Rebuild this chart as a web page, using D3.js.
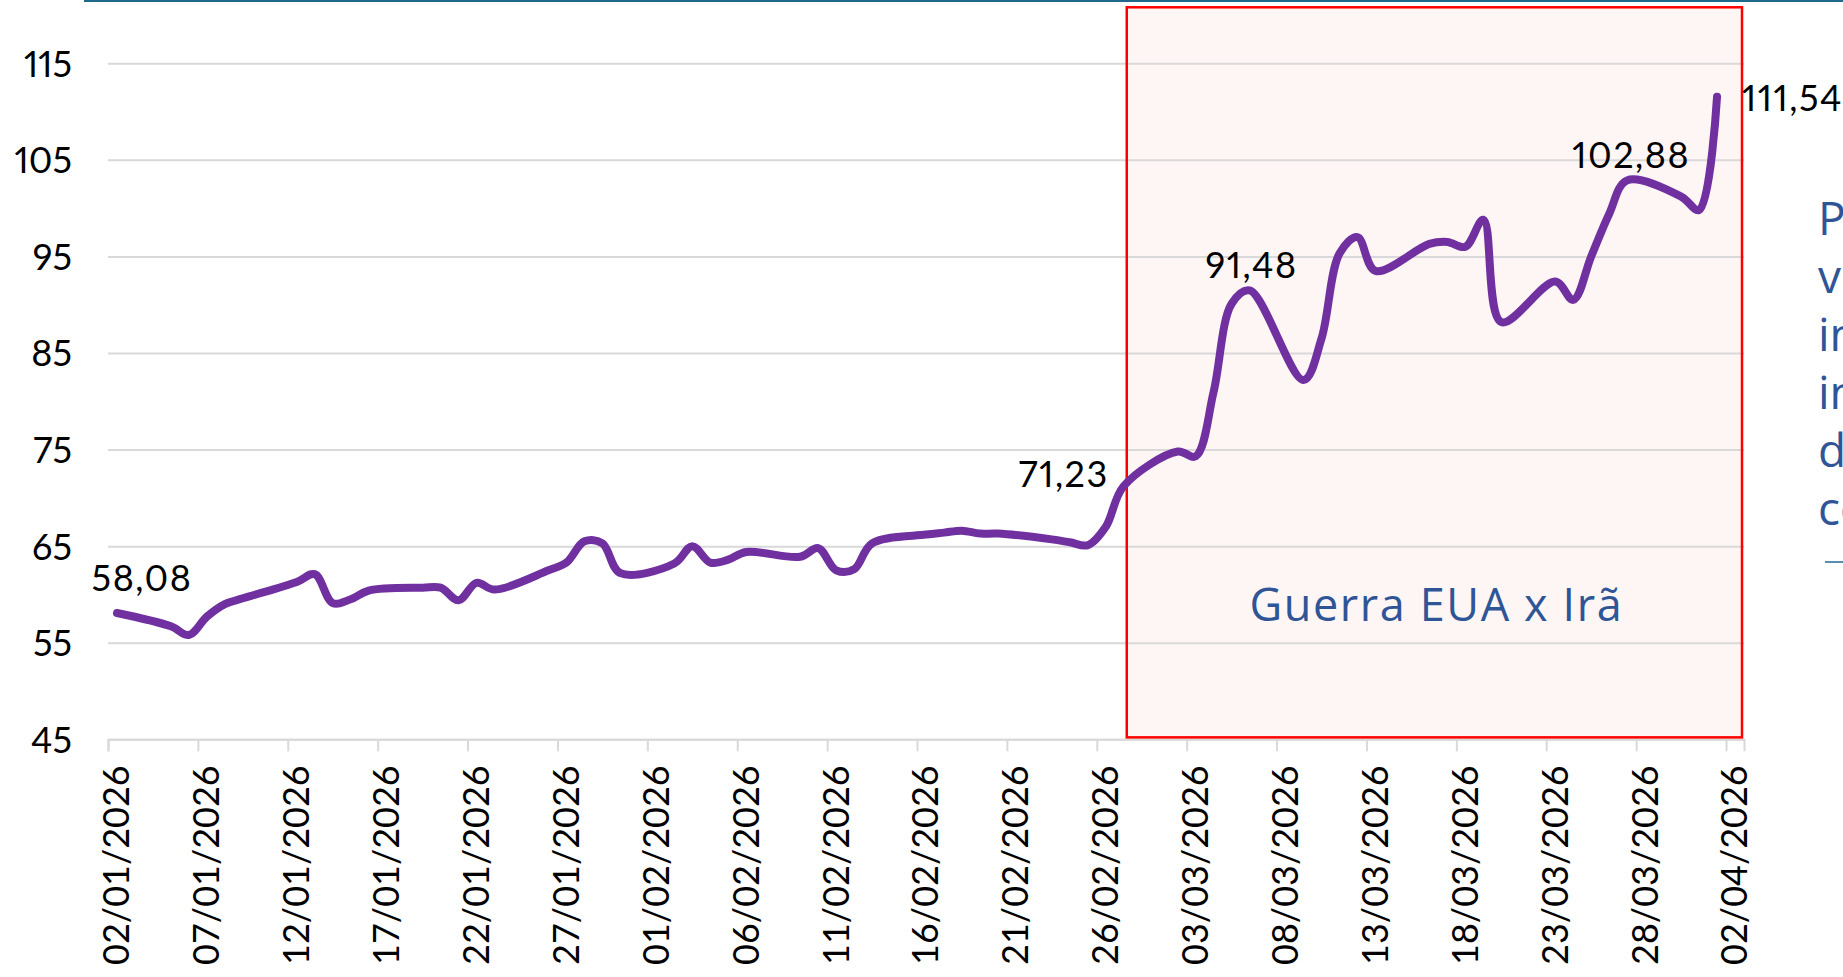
<!DOCTYPE html>
<html>
<head>
<meta charset="utf-8">
<script src="https://cdn.jsdelivr.net/npm/d3@7"></script>
<style>
  html, body { margin: 0; padding: 0; background: #ffffff; overflow: hidden; }
  svg { display: block; }
  text.num { font-variant-numeric: proportional-nums; font-feature-settings: "pnum" 1; }
</style>
</head>
<body>
<svg id="chart" width="1843" height="977"></svg>
<script>
// ---------------- DATA ----------------
const dates = [
  "2026-01-02","2026-01-05","2026-01-06","2026-01-07","2026-01-08","2026-01-09",
  "2026-01-12","2026-01-13","2026-01-14","2026-01-15","2026-01-16",
  "2026-01-19","2026-01-20","2026-01-21","2026-01-22","2026-01-23",
  "2026-01-26","2026-01-27","2026-01-28","2026-01-29","2026-01-30",
  "2026-02-02","2026-02-03","2026-02-04","2026-02-05","2026-02-06",
  "2026-02-09","2026-02-10","2026-02-11","2026-02-12","2026-02-13",
  "2026-02-16","2026-02-17","2026-02-18","2026-02-19","2026-02-20",
  "2026-02-23","2026-02-24","2026-02-25","2026-02-26","2026-02-27",
  "2026-03-02","2026-03-03","2026-03-04","2026-03-05","2026-03-06",
  "2026-03-09","2026-03-10","2026-03-11","2026-03-12","2026-03-13",
  "2026-03-16","2026-03-17","2026-03-18","2026-03-19","2026-03-20",
  "2026-03-23","2026-03-24","2026-03-25","2026-03-26","2026-03-27",
  "2026-03-30","2026-03-31","2026-04-01"
];
const prices = [
  58.08, 56.7, 55.8, 57.7, 59.0, 59.6,
  61.3, 62.1, 59.1, 59.5, 60.4,
  60.7, 60.7, 59.4, 61.2, 60.5,
  62.5, 63.3, 65.5, 65.3, 62.2,
  63.2, 65.0, 63.3, 63.6, 64.4,
  63.9, 64.8, 62.5, 62.6, 65.3,
  66.2, 66.4, 66.6, 66.3, 66.3,
  65.7, 65.4, 65.1, 67.0, 71.23,
  74.8, 74.3, 81.0, 90.1, 91.48,
  82.2, 86.5, 95.3, 97.0, 93.5,
  96.3, 96.5, 96.0, 98.8, 88.2,
  92.4, 90.5, 95.0, 99.4, 102.88,
  101.2, 99.8, 111.54
];
const yTicks = [45, 55, 65, 75, 85, 95, 105, 115];
const xTickStart = "2026-01-02";
const xTickEveryDays = 5;
const xDomain = ["2026-01-02", "2026-04-03"];
const labeledDates = ["2026-01-02", "2026-02-27", "2026-03-06", "2026-03-27", "2026-04-01"];
const bandStart = "2026-02-27T16:00";   // war period highlight
const bandValueRange = [45.2, 120.8];
const bandLabel = "Guerra EUA x Irã";
const bandLabelValue = 57.3;
const sideTextLines = ["Preço do Brent", "vem sendo", "impulsionado", "incertezas", "do", "conflito"];

// ---------------- LAYOUT ----------------
const M = { left: 108, right: 1744, top: 63.3, bottom: 739.3 };
const svg = d3.select("#chart");
const parse = d3.timeParse("%Y-%m-%d");
const parseT = d3.timeParse("%Y-%m-%dT%H:%M");
const mid = d => d3.timeHour.offset(parse(d), 12);

const x = d3.scaleTime().domain(xDomain.map(parse)).range([M.left, M.right]);
const y = d3.scaleLinear().domain([45, 115]).range([M.bottom, M.top]);

const data = dates.map((d, i) => ({ date: d, t: mid(d), v: prices[i] }));

const FONT = "Lato, 'Open Sans', sans-serif";
const GRID = "#d9d9d9";

// top rule
svg.append("rect").attr("x", 84).attr("y", 0).attr("width", 1843 - 84).attr("height", 2)
  .attr("fill", "#1f6a8c");

// band
const bx0 = x(parseT(bandStart));
const bx1 = M.right - 2;
svg.append("rect")
  .attr("x", bx0).attr("y", y(bandValueRange[1]))
  .attr("width", bx1 - bx0).attr("height", y(bandValueRange[0]) - y(bandValueRange[1]))
  .attr("fill", "#fef5f5");

// gridlines
const yAxis = d3.axisLeft(y).tickValues(yTicks).tickSize(-(M.right - M.left)).tickPadding(36)
  .tickFormat(d3.format("d"));
const gy = svg.append("g").attr("transform", `translate(${M.left},0)`).call(yAxis);
gy.select(".domain").remove();
gy.selectAll(".tick line").attr("stroke", GRID).attr("stroke-width", 2);
gy.selectAll(".tick text").attr("class", "num").attr("font-family", FONT).attr("font-size", 36).attr("fill", "#000")
  .attr("dy", "0.36em");

// x axis
const xTicks = d3.range(0, 19).map(k => d3.timeDay.offset(parse(xTickStart), k * xTickEveryDays));
const xAxis = d3.axisBottom(x).tickValues(xTicks).tickSize(12).tickPadding(0)
  .tickFormat(d3.timeFormat("%d/%m/%Y"));
const gx = svg.append("g").attr("transform", `translate(0,${M.bottom})`).call(xAxis);
gx.select(".domain").attr("stroke", GRID).attr("stroke-width", 2);
gx.selectAll(".tick line").attr("stroke", GRID).attr("stroke-width", 2);
gx.selectAll(".tick text")
  .attr("font-family", FONT).attr("font-size", 36).attr("fill", "#000")
  .attr("text-anchor", "end")
  .attr("transform", "rotate(-90)")
  .attr("x", -26).attr("y", 8).attr("dy", "0.36em");

// band border (on top of grid)
svg.append("rect")
  .attr("x", bx0).attr("y", y(bandValueRange[1]))
  .attr("width", bx1 - bx0).attr("height", y(bandValueRange[0]) - y(bandValueRange[1]))
  .attr("fill", "none").attr("stroke", "#ff0000").attr("stroke-width", 2.5);

svg.append("text")
  .attr("x", (bx0 + bx1) / 2 + 2).attr("y", y(bandLabelValue))
  .attr("text-anchor", "middle")
  .attr("font-family", "'Open Sans', sans-serif").attr("font-weight", 400)
  .attr("font-size", 45).attr("letter-spacing", 1.6)
  .attr("fill", "#2f5597").text(bandLabel);

// line
const line = d3.line().x(d => x(d.t)).y(d => y(d.v)).curve(d3.curveCatmullRom.alpha(0.5));
svg.append("path").datum(data).attr("d", line)
  .attr("fill", "none").attr("stroke", "#7030a0").attr("stroke-width", 8)
  .attr("stroke-linejoin", "round").attr("stroke-linecap", "round");

// data labels
const fmt = v => d3.format(".2f")(v).replace(".", ",");
const labelPlacement = {
  "2026-01-02": { anchor: "middle", dx: 25, dy: -35 },
  "2026-02-27": { anchor: "end", dx: -15, dy: -12 },
  "2026-03-06": { anchor: "middle", dx: 2, dy: -25 },
  "2026-03-27": { anchor: "middle", dx: 4, dy: -25 },
  "2026-04-01": { anchor: "start", dx: 25, dy: 1 }
};
labeledDates.forEach(d => {
  const p = data.find(e => e.date === d);
  const pl = labelPlacement[d];
  svg.append("text").attr("class", "num")
    .attr("x", x(p.t) + pl.dx).attr("y", y(p.v) + pl.dy).attr("dy", "0.36em")
    .attr("text-anchor", pl.anchor)
    .attr("font-family", FONT).attr("font-size", 36).attr("letter-spacing", 1.5)
    .attr("fill", "#000").text(fmt(p.v));
});

// side text (clipped at page edge, as in the source)
svg.append("g").selectAll("text").data(sideTextLines).join("text")
  .attr("x", 1818).attr("y", (d, i) => 235 + i * 58)
  .attr("font-family", "'Open Sans', sans-serif").attr("font-size", 46)
  .attr("fill", "#2f5597").text(d => d);
svg.append("rect").attr("x", 1825).attr("y", 561).attr("width", 20).attr("height", 2)
  .attr("fill", "#5b8db0");
</script>
</body>
</html>
